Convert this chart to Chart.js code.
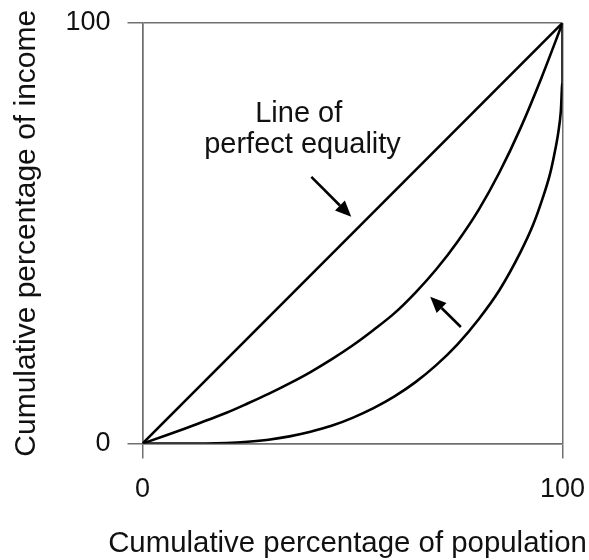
<!DOCTYPE html>
<html><head><meta charset="utf-8">
<script src="https://cdn.jsdelivr.net/npm/chart.js@4/dist/chart.umd.min.js"></script>
<style>html,body{margin:0;padding:0;background:#fff;} #wrap{width:589px;height:560px;position:relative;}</style>
</head><body><div id="wrap"><canvas id="c"></canvas></div>
<script>
// ---- data ----
const populationEquality = [0, 100];
const incomeEquality = [0, 100];
const populationCurveA = [0, 5, 10, 15, 20, 25, 30, 35, 40, 45, 50, 55, 60, 65, 70, 75, 80, 85, 90, 95, 100];
const incomeCurveA     = [0, 1.7, 3.5, 5.4, 7.3, 9.5, 11.8, 14.3, 17, 20, 23.3, 27, 31, 35.9, 41.5, 48, 55.5, 64.5, 75, 87, 100];
const populationCurveB = [0, 5, 10, 15, 20, 25, 30, 35, 40, 45, 50, 55, 60, 65, 70, 75, 80, 85, 90, 93, 95, 97, 98, 99, 99.6, 100, 100];
const incomeCurveB     = [0, 0, 0, 0, 0.1, 0.4, 0.9, 1.7, 2.8, 4.2, 6.1, 8.4, 11.2, 14.6, 18.7, 23.6, 29.5, 36.5, 45.5, 52, 57.5, 64, 68.5, 74, 79, 86, 100];
const axisTicks = [0, 100];
const xTitle = 'Cumulative percentage of population';
const yTitle = 'Cumulative percentage of income';
const noteLines = ['Line of', 'perfect equality'];
const notePos = [[37.2, 76.5], [38.1, 69.0]];          // label anchors in data units
const arrowEquality = [[40.2, 63.4], [49.7, 53.9]];     // tail, tip
const arrowShift = [[75.8, 27.7], [68.5, 34.9]];        // tail, tip

const pts = (xs, ys) => xs.map((v, i) => ({x: v, y: ys[i]}));
const FONT = '"Liberation Sans", Arial, Helvetica, sans-serif';
const GRID = '#707070';

const overlay = {
  id: 'overlay',
  afterDatasetsDraw(chart) {
    const {ctx, scales: {x, y}} = chart;
    ctx.save();
    ctx.fillStyle = '#111';
    ctx.font = '29px ' + FONT;
    ctx.textAlign = 'center';
    ctx.textBaseline = 'alphabetic';
    noteLines.forEach((t, i) => ctx.fillText(t, x.getPixelForValue(notePos[i][0]), y.getPixelForValue(notePos[i][1])));
    const drawArrow = (a) => {
      const x0 = x.getPixelForValue(a[0][0]), y0 = y.getPixelForValue(a[0][1]);
      const x1 = x.getPixelForValue(a[1][0]), y1 = y.getPixelForValue(a[1][1]);
      const ang = Math.atan2(y1 - y0, x1 - x0);
      const hl = 16, hw = 7;
      const bx = x1 - hl * Math.cos(ang), by = y1 - hl * Math.sin(ang);
      ctx.strokeStyle = '#000'; ctx.lineWidth = 2.6; ctx.lineCap = 'butt';
      ctx.beginPath(); ctx.moveTo(x0, y0); ctx.lineTo(bx, by); ctx.stroke();
      ctx.fillStyle = '#000';
      ctx.beginPath();
      ctx.moveTo(x1, y1);
      ctx.lineTo(bx + hw * Math.sin(ang), by - hw * Math.cos(ang));
      ctx.lineTo(bx - hw * Math.sin(ang), by + hw * Math.cos(ang));
      ctx.closePath(); ctx.fill();
    };
    drawArrow(arrowEquality);
    drawArrow(arrowShift);

    // x-axis title (wider than the axis, so drawn here without Chart.js width clamp)
    ctx.fillStyle = '#111';
    ctx.font = '29.4px ' + FONT;
    ctx.textAlign = 'center';
    ctx.textBaseline = 'alphabetic';
    ctx.fillText(xTitle, (x.left + x.right) / 2 - 5, x.bottom - 8);
    ctx.restore();
  }
};

const lineDs = (data, mode) => ({
  data, showLine: true, borderColor: '#000', borderWidth: 2.6,
  pointRadius: 0, pointHoverRadius: 0, tension: 0, cubicInterpolationMode: mode, fill: false
});

new Chart(document.getElementById('c'), {
  type: 'scatter',
  data: {
    datasets: [
      lineDs(pts(populationEquality, incomeEquality), 'default'),
      lineDs(pts(populationCurveA, incomeCurveA), 'monotone'),
      lineDs(pts(populationCurveB, incomeCurveB), 'monotone')
    ]
  },
  options: {
    responsive: true, maintainAspectRatio: false, animation: false,
    events: [],
    layout: {padding: {top: 23, right: 26.5, bottom: 0, left: 0}},
    plugins: {legend: {display: false}, tooltip: {enabled: false}},
    scales: {
      x: {
        type: 'linear', min: 0, max: 100,
        afterBuildTicks: s => { s.ticks = axisTicks.map(v => ({value: v})); },
        afterFit: s => { s.height = 116.5; s.paddingLeft = 0; s.paddingRight = 0; },
        ticks: {color: '#111', font: {family: FONT, size: 27}, padding: 15, maxRotation: 0},
        grid: {color: GRID, lineWidth: 1.5, tickLength: 15, tickColor: GRID},
        border: {color: GRID, width: 1.5},
        title: {display: false, text: xTitle}
      },
      y: {
        type: 'linear', min: 0, max: 100,
        afterBuildTicks: s => { s.ticks = axisTicks.map(v => ({value: v})); },
        afterFit: s => { s.width = 142.5; s.paddingTop = 0; s.paddingBottom = 0; },
        ticks: {color: '#111', font: {family: FONT, size: 27}, padding: 17},
        grid: {color: GRID, lineWidth: 1.5, tickLength: 15, tickColor: GRID},
        border: {color: GRID, width: 1.5},
        title: {display: true, text: yTitle, color: '#111', font: {family: FONT, size: 30}, padding: {top: 9, bottom: 0}}
      }
    }
  },
  plugins: [overlay]
});
</script>
</body></html>
